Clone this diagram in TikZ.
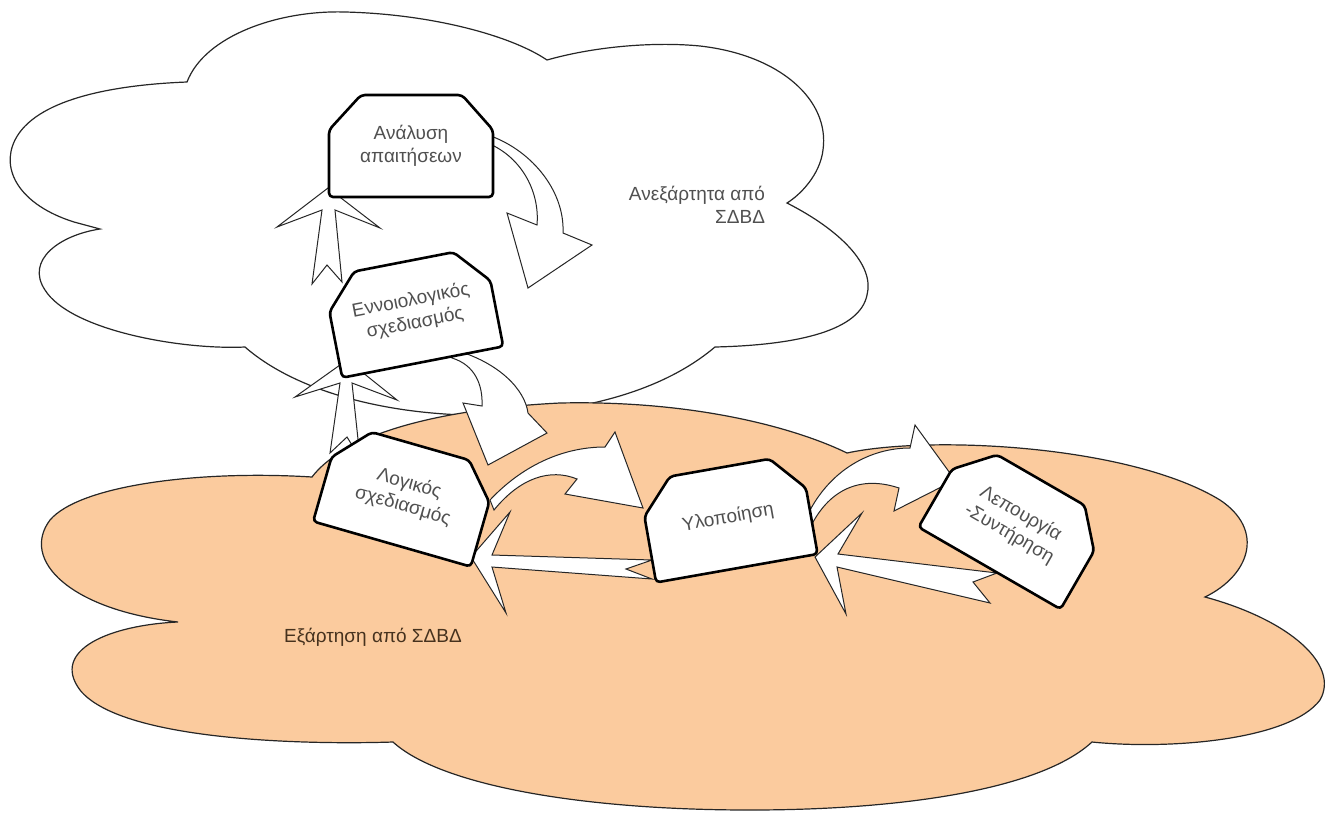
\documentclass[tikz,border=0pt]{standalone}
\usepackage{fontspec}
\setmainfont{Liberation Sans}
\usepackage{xcolor}
\usetikzlibrary{positioning,calc}

\definecolor{cloudorange}{RGB}{251,203,158}
\definecolor{stagegray}{RGB}{80,80,80}
\definecolor{cloudbrown}{RGB}{70,50,30}

\begin{document}
\begin{tikzpicture}[x=1pt, y=-1pt,
    stagebox/.pic={
      \draw[draw=black, line width=2.6pt, fill=white, rounded corners=4pt, line join=round]
        (-82,-16) -- (-50,-51) -- (51,-51) -- (82,-16) -- (82,51) -- (-82,51) -- cycle;
    },
    stagetext/.style={align=center, text=stagegray, inner sep=0pt, font=\fontsize{19}{23}\selectfont},
    cloudline/.style={draw=black!85, line width=1.2pt},
    blockarrow/.style={draw=black!85, fill=white, line width=1pt, line join=miter}]
    \useasboundingbox (0,0) rectangle (1330,812);

    % Upper cloud (independent of DBMS)
    \draw[cloudline, fill=white] (187,82)
        .. controls (205,35) and (280,10) .. (345,12)
        .. controls (430,14) and (510,35) .. (547,60)
        .. controls (600,45) and (660,42) .. (700,46)
        .. controls (780,55) and (830,100) .. (823,150)
        .. controls (820,175) and (800,195) .. (787,203)
        .. controls (840,230) and (875,265) .. (867,295)
        .. controls (860,330) and (800,345) .. (715,347)
        .. controls (670,385) and (600,410) .. (500,415)
        .. controls (400,418) and (300,395) .. (245,347)
        .. controls (180,350) and (70,330) .. (45,290)
        .. controls (25,260) and (60,235) .. (100,229)
        -- (74,222)
        .. controls (20,205) and (0,170) .. (15,140)
        .. controls (35,100) and (110,85) .. (187,82) -- cycle;

    % Lower cloud (dependent on DBMS)
    \draw[cloudline, fill=cloudorange] (312,477)
        .. controls (340,440) and (420,410) .. (560,403)
        .. controls (700,400) and (800,430) .. (847,453)
        .. controls (930,435) and (1130,445) .. (1220,500)
        .. controls (1265,530) and (1250,575) .. (1205,597)
        .. controls (1290,620) and (1340,665) .. (1320,700)
        .. controls (1290,740) and (1170,750) .. (1092,742)
        .. controls (1040,790) and (900,810) .. (750,810)
        .. controls (580,810) and (440,785) .. (393,742)
        .. controls (300,745) and (120,740) .. (80,690)
        .. controls (50,650) and (110,625) .. (178,622)
        .. controls (70,610) and (20,560) .. (50,520)
        .. controls (80,485) and (200,470) .. (312,477) -- cycle;

    % Cloud labels
    \node[stagetext, align=right] (indep) at (697,205) {Ανεξάρτητα από\\ΣΔΒΔ};
    \node[stagetext, text=cloudbrown] (dep) at (373,637) {Εξάρτηση από ΣΔΒΔ};

    % Block arrows
    \draw[blockarrow] (328,188) -- (380,228) -- (335,210) -- (342,282) -- (327,265)
        -- (312,284) -- (322,210) -- (277,227) -- cycle;
    \draw[blockarrow] (347,360) -- (397,400) -- (352,383) -- (360,458) -- (347,437)
        -- (330,453) -- (340,383) -- (295,397) -- cycle;
    \draw[blockarrow] (485,134) .. controls (530,148) and (565,190) .. (563,233)
        -- (592,245) -- (528,288) -- (507,213) -- (537,225)
        .. controls (540,190) and (520,155) .. (485,142) -- cycle;
    \draw[blockarrow] (455,350) .. controls (500,363) and (525,390) .. (528,413)
        -- (547,433) -- (488,465) -- (463,403) -- (482,406)
        .. controls (483,385) and (475,365) .. (452,358) -- cycle;
    \draw[blockarrow] (490,500) .. controls (520,468) and (560,447) .. (605,447)
        -- (615,432) -- (643,508) -- (565,494) -- (577,479)
        .. controls (550,468) and (520,478) .. (494,510) -- cycle;
    \draw[blockarrow] (808,514) .. controls (830,470) and (870,448) .. (910,448)
        -- (915,425) -- (955,480) -- (894,511) -- (899,488)
        .. controls (860,475) and (830,490) .. (812,524) -- cycle;
    \draw[blockarrow] (471,557) -- (510,512) -- (492,555) -- (652,560) -- (626,569)
        -- (652,579) -- (492,567) -- (506,613) -- cycle;
    \draw[blockarrow] (815,557) -- (862,513) -- (838,554) -- (997,573) -- (973,582)
        -- (990,603) -- (837,567) -- (846,614) -- cycle;

    % Design stages
    \pic at (411,146) {stagebox};
    \node[stagetext] (analysis) at (411,146) {Ανάλυση\\απαιτήσεων};
    \pic[rotate=11] at (413,312) {stagebox};
    \node[stagetext, rotate=11] (concept) at (413,312) {Εννοιολογικός\\σχεδιασμός};
    \pic[rotate=-16] at (406,495) {stagebox};
    \node[stagetext, rotate=-16] (logical) at (406,495) {Λογικός\\σχεδιασμός};
    \pic[rotate=10] at (728,518) {stagebox};
    \node[stagetext, rotate=10] (impl) at (728,518) {Υλοποίηση};
    \pic[rotate=-30] at (1015,524) {stagebox};
    \node[stagetext, rotate=-30] (oper) at (1015,524) {Λεπουργία\\-Συντήρηση};
\end{tikzpicture}
\end{document}
